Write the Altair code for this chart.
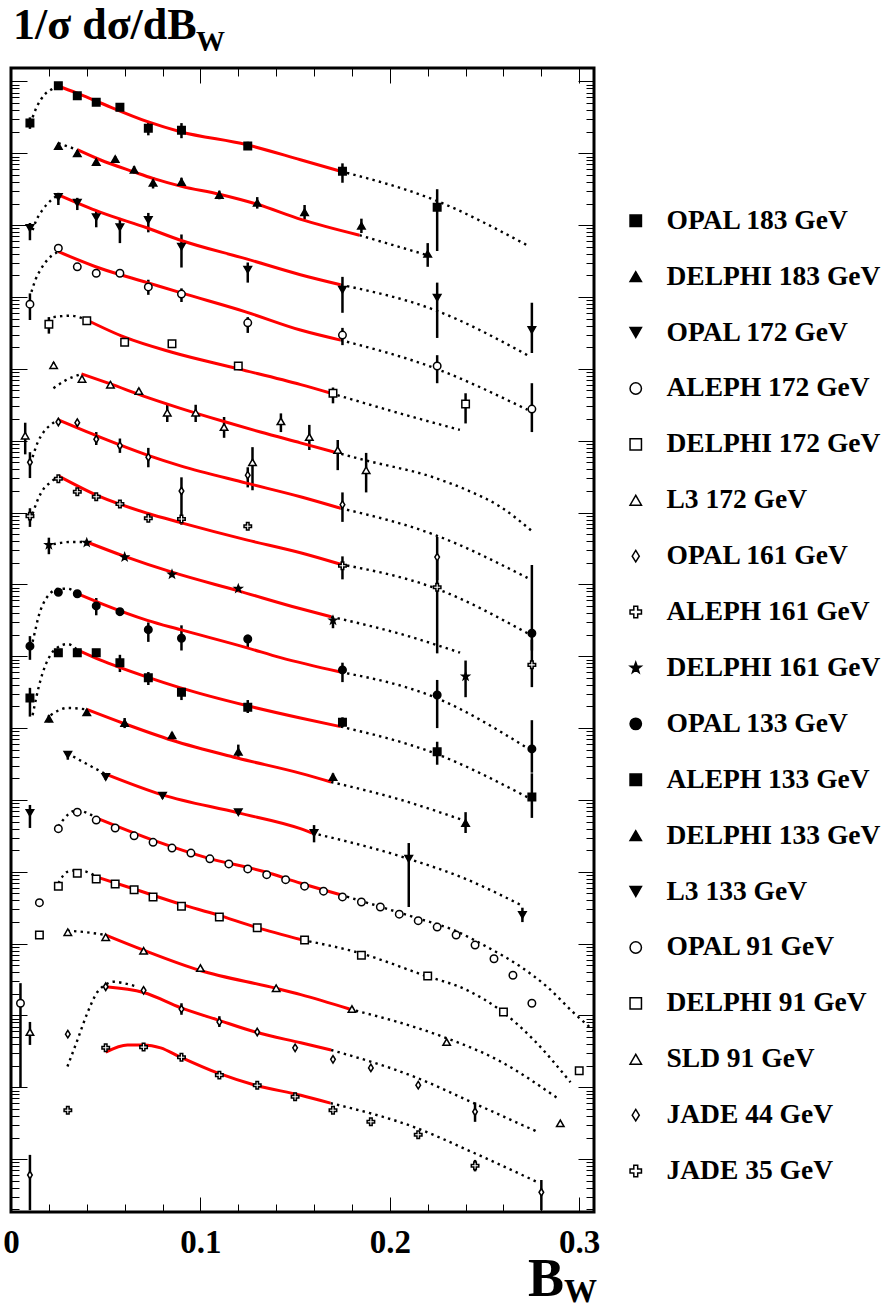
import altair as alt
import pandas as pd

NAMES = ["OPAL 183 GeV", "DELPHI 183 GeV", "OPAL 172 GeV", "ALEPH 172 GeV",
         "DELPHI 172 GeV", "L3 172 GeV", "OPAL 161 GeV", "ALEPH 161 GeV",
         "DELPHI 161 GeV", "OPAL 133 GeV", "ALEPH 133 GeV", "DELPHI 133 GeV",
         "L3 133 GeV", "OPAL 91 GeV", "DELPHI 91 GeV", "SLD 91 GeV",
         "JADE 44 GeV", "JADE 35 GeV"]

# y values are log10 of (1/sigma dsigma/dB_W x display offset); errors in decades
# ---- OPAL 183
o183_x = [0.01, 0.025, 0.035, 0.045, 0.0575, 0.0725, 0.09, 0.125, 0.175, 0.225]
o183_y = [0.42, 0.94, 0.80, 0.71, 0.64, 0.35, 0.32, 0.10, -0.25, -0.75]
o183_eu = [0.08, 0.03, 0.03, 0.03, 0.03, 0.10, 0.10, 0.06, 0.11, 0.25]
o183_ed = [0.08, 0.03, 0.03, 0.03, 0.03, 0.10, 0.11, 0.05, 0.16, 0.61]
o183_pre_x = [0.0114, 0.0135, 0.0156, 0.0182, 0.0209, 0.0245]
o183_pre_y = [0.50, 0.64, 0.74, 0.83, 0.88, 0.94]
o183_fit_x = [0.0245, 0.0346, 0.0473, 0.0721, 0.0895, 0.1243, 0.1528, 0.174]
o183_fit_y = [0.94, 0.84, 0.70, 0.44, 0.30, 0.12, -0.09, -0.25]
o183_post_x = [0.174, 0.2236, 0.2732]
o183_post_y = [-0.25, -0.65, -1.29]
# ---- DELPHI 183
d183_x = [0.025, 0.035, 0.045, 0.055, 0.065, 0.075, 0.09, 0.11, 0.13, 0.155, 0.185, 0.22]
d183_y = [0.10, 0.00, -0.12, -0.08, -0.23, -0.41, -0.40, -0.58, -0.69, -0.82, -1.01, -1.40]
d183_eu = [0.04, 0.04, 0.04, 0.04, 0.05, 0.08, 0.06, 0.06, 0.08, 0.10, 0.10, 0.15]
d183_ed = [0.04, 0.04, 0.04, 0.04, 0.05, 0.08, 0.06, 0.06, 0.08, 0.10, 0.10, 0.18]
d183_pre_x = [0.025, 0.035]
d183_pre_y = [0.14, 0.05]
d183_fit_x = [0.035, 0.047, 0.065, 0.075, 0.09, 0.11, 0.13, 0.153, 0.184]
d183_fit_y = [0.05, -0.09, -0.26, -0.35, -0.46, -0.57, -0.71, -0.92, -1.14]
d183_post_x = [0.184, 0.22]
d183_post_y = [-1.14, -1.42]
# ---- OPAL 172
o172_x = [0.01, 0.025, 0.035, 0.045, 0.0575, 0.0725, 0.09, 0.125, 0.175, 0.225, 0.275]
o172_y = [-1.04, -0.61, -0.69, -0.89, -1.03, -0.93, -1.30, -1.62, -1.90, -2.01, -2.46]
o172_eu = [0.07, 0.06, 0.07, 0.10, 0.13, 0.10, 0.17, 0.10, 0.18, 0.21, 0.38]
o172_ed = [0.17, 0.11, 0.10, 0.14, 0.22, 0.17, 0.29, 0.18, 0.32, 0.56, 0.32]
o172_pre_x = [0.0114, 0.0129, 0.0166, 0.0209, 0.025]
o172_pre_y = [-1.07, -0.96, -0.79, -0.66, -0.58]
o172_fit_x = [0.025, 0.047, 0.072, 0.0895, 0.1243, 0.1528, 0.174]
o172_fit_y = [-0.58, -0.82, -1.04, -1.21, -1.47, -1.69, -1.83]
o172_post_x = [0.174, 0.2236, 0.2727]
o172_post_y = [-1.83, -2.18, -2.81]
# ---- ALEPH 172
a172_x = [0.01, 0.025, 0.035, 0.045, 0.0575, 0.0725, 0.09, 0.125, 0.175, 0.225, 0.275]
a172_y = [-2.10, -1.32, -1.58, -1.67, -1.67, -1.86, -1.96, -2.36, -2.53, -2.96, -3.56]
a172_eu = [0.15, 0.04, 0.04, 0.04, 0.04, 0.10, 0.08, 0.08, 0.10, 0.15, 0.36]
a172_ed = [0.22, 0.04, 0.04, 0.04, 0.04, 0.11, 0.11, 0.14, 0.14, 0.24, 0.32]
a172_pre_x = [0.0108, 0.0129, 0.0156, 0.0193, 0.0235, 0.025]
a172_pre_y = [-1.93, -1.76, -1.62, -1.48, -1.39, -1.37]
a172_fit_x = [0.025, 0.047, 0.072, 0.0895, 0.1243, 0.1528, 0.174]
a172_fit_y = [-1.37, -1.60, -1.80, -1.94, -2.21, -2.46, -2.60]
a172_post_x = [0.174, 0.2236, 0.2727]
a172_post_y = [-2.60, -2.99, -3.57]
# ---- DELPHI 172
d172_x = [0.02, 0.04, 0.06, 0.085, 0.12, 0.17, 0.24]
d172_y = [-2.38, -2.33, -2.63, -2.65, -2.96, -3.34, -3.49]
d172_eu = [0.10, 0.04, 0.04, 0.04, 0.04, 0.08, 0.15]
d172_ed = [0.13, 0.04, 0.04, 0.04, 0.04, 0.14, 0.27]
d172_pre_x = [0.0224, 0.0314, 0.04]
d172_pre_y = [-2.28, -2.26, -2.32]
d172_fit_x = [0.04, 0.06, 0.085, 0.12, 0.153, 0.169]
d172_fit_y = [-2.32, -2.56, -2.77, -3.00, -3.22, -3.34]
d172_post_x = [0.169, 0.204, 0.237]
d172_post_y = [-3.34, -3.61, -3.85]
# ---- L3 172
l172_x = [0.0075, 0.0225, 0.0375, 0.0525, 0.0675, 0.0825, 0.0975, 0.1125, 0.1275, 0.1425, 0.1575, 0.1725, 0.1875]
l172_y = [-3.93, -2.95, -3.14, -3.22, -3.31, -3.61, -3.61, -3.81, -4.30, -3.73, -3.95, -4.13, -4.41]
l172_eu = [0.18, 0.04, 0.04, 0.04, 0.04, 0.11, 0.11, 0.14, 0.21, 0.11, 0.17, 0.14, 0.24]
l172_ed = [0.26, 0.04, 0.04, 0.04, 0.04, 0.13, 0.13, 0.15, 0.39, 0.15, 0.18, 0.28, 0.31]
l172_pre_x = [0.0224, 0.0288, 0.0372]
l172_pre_y = [-3.27, -3.16, -3.07]
l172_fit_x = [0.0372, 0.0525, 0.07, 0.0895, 0.112, 0.1317, 0.1528, 0.171]
l172_fit_y = [-3.07, -3.21, -3.38, -3.55, -3.73, -3.88, -4.03, -4.16]
l172_post_x = [0.171, 0.1867, 0.223, 0.241, 0.2584, 0.276]
l172_post_y = [-4.16, -4.27, -4.51, -4.69, -4.92, -5.28]
# ---- OPAL 161
o161_x = [0.01, 0.025, 0.035, 0.045, 0.0575, 0.0725, 0.09, 0.125, 0.175, 0.225]
o161_y = [-4.30, -3.74, -3.75, -3.98, -4.07, -4.23, -4.70, -4.48, -4.89, -5.62]
o161_eu = [0.14, 0.04, 0.04, 0.10, 0.10, 0.13, 0.19, 0.11, 0.17, 0.28]
o161_ed = [0.22, 0.04, 0.04, 0.08, 0.10, 0.14, 0.47, 0.17, 0.24, 0.32]
o161_pre_x = [0.0114, 0.014, 0.0172, 0.0209, 0.025]
o161_pre_y = [-4.23, -4.03, -3.88, -3.78, -3.71]
o161_fit_x = [0.025, 0.047, 0.072, 0.0895, 0.1243, 0.1528, 0.174]
o161_fit_y = [-3.71, -3.95, -4.20, -4.35, -4.59, -4.78, -4.94]
o161_post_x = [0.174, 0.2236, 0.2727]
o161_post_y = [-4.94, -5.31, -5.91]
# ---- ALEPH 161
a161_x = [0.01, 0.025, 0.035, 0.045, 0.0575, 0.0725, 0.09, 0.125, 0.175, 0.225, 0.275]
a161_y = [-5.05, -4.53, -4.71, -4.78, -4.88, -5.08, -5.09, -5.19, -5.74, -6.04, -7.12]
a161_eu = [0.11, 0.04, 0.04, 0.04, 0.05, 0.05, 0.05, 0.05, 0.13, 0.38, 0.35]
a161_ed = [0.15, 0.04, 0.04, 0.04, 0.05, 0.05, 0.05, 0.05, 0.19, 0.92, 0.31]
a161_pre_x = [0.0114, 0.014, 0.0172, 0.0209, 0.025]
a161_pre_y = [-5.02, -4.83, -4.67, -4.58, -4.49]
a161_fit_x = [0.025, 0.047, 0.072, 0.0895, 0.1243, 0.1528, 0.174]
a161_fit_y = [-4.49, -4.78, -5.01, -5.14, -5.38, -5.56, -5.72]
a161_post_x = [0.174, 0.2236, 0.2727]
a161_post_y = [-5.72, -6.05, -6.68]
# ---- DELPHI 161
d161_x = [0.02, 0.04, 0.06, 0.085, 0.12, 0.17, 0.24]
d161_y = [-5.45, -5.42, -5.62, -5.86, -6.06, -6.50, -7.28]
d161_eu = [0.10, 0.04, 0.04, 0.04, 0.04, 0.04, 0.22]
d161_ed = [0.13, 0.04, 0.04, 0.04, 0.04, 0.11, 0.29]
d161_pre_x = [0.0224, 0.0314, 0.04]
d161_pre_y = [-5.44, -5.41, -5.41]
d161_fit_x = [0.04, 0.06, 0.085, 0.12, 0.153, 0.169]
d161_fit_y = [-5.41, -5.61, -5.83, -6.09, -6.34, -6.45]
d161_post_x = [0.169, 0.211, 0.237]
d161_post_y = [-6.45, -6.73, -6.95]
# ---- OPAL 133
o133_x = [0.01, 0.025, 0.035, 0.045, 0.0575, 0.0725, 0.09, 0.125, 0.175, 0.225, 0.275, 0.275]
o133_y = [-6.86, -6.11, -6.13, -6.30, -6.38, -6.63, -6.75, -6.76, -7.19, -7.54, -8.29, -6.68]
o133_eu = [0.14, 0.04, 0.04, 0.11, 0.05, 0.10, 0.18, 0.06, 0.10, 0.21, 0.40, 0.95]
o133_ed = [0.19, 0.04, 0.04, 0.13, 0.05, 0.17, 0.17, 0.13, 0.17, 0.46, 0.33, 0.24]
o133_pre_x = [0.0114, 0.0129, 0.0145, 0.0172, 0.0209, 0.025, 0.0298, 0.035]
o133_pre_y = [-6.80, -6.63, -6.45, -6.26, -6.12, -6.06, -6.06, -6.13]
o133_fit_x = [0.035, 0.047, 0.072, 0.0895, 0.1243, 0.1423, 0.174]
o133_fit_y = [-6.13, -6.26, -6.50, -6.63, -6.88, -7.02, -7.22]
o133_post_x = [0.174, 0.2236, 0.2727]
o133_post_y = [-7.22, -7.57, -8.28]
# ---- ALEPH 133
a133_x = [0.01, 0.025, 0.035, 0.045, 0.0575, 0.0725, 0.09, 0.125, 0.175, 0.225, 0.275]
a133_y = [-7.58, -6.95, -6.95, -6.95, -7.09, -7.30, -7.50, -7.71, -7.92, -8.33, -8.96]
a133_eu = [0.14, 0.04, 0.04, 0.04, 0.11, 0.08, 0.07, 0.10, 0.07, 0.14, 0.33]
a133_ed = [0.26, 0.04, 0.04, 0.04, 0.13, 0.10, 0.11, 0.08, 0.07, 0.18, 0.29]
a133_pre_x = [0.0114, 0.0156, 0.0209, 0.025, 0.0298, 0.035]
a133_pre_y = [-7.82, -7.33, -6.98, -6.87, -6.83, -6.91]
a133_fit_x = [0.035, 0.047, 0.072, 0.0895, 0.1249, 0.1528, 0.174]
a133_fit_y = [-6.91, -7.05, -7.29, -7.44, -7.69, -7.86, -7.98]
a133_post_x = [0.174, 0.2236, 0.2732]
a133_post_y = [-7.98, -8.35, -8.97]
# ---- DELPHI 133
d133_x = [0.02, 0.04, 0.06, 0.085, 0.12, 0.17, 0.24]
d133_y = [-7.87, -7.78, -7.93, -8.10, -8.33, -8.68, -9.32]
d133_eu = [0.05, 0.04, 0.07, 0.04, 0.10, 0.05, 0.15]
d133_ed = [0.05, 0.04, 0.07, 0.04, 0.07, 0.05, 0.14]
d133_pre_x = [0.0209, 0.0298, 0.04]
d133_pre_y = [-7.82, -7.72, -7.74]
d133_fit_x = [0.04, 0.06, 0.085, 0.12, 0.153, 0.169]
d133_fit_y = [-7.74, -7.94, -8.17, -8.42, -8.63, -8.75]
d133_post_x = [0.169, 0.206, 0.2385]
d133_post_y = [-8.75, -9.00, -9.28]
# ---- L3 133
l133_x = [0.01, 0.03, 0.05, 0.08, 0.12, 0.16, 0.21, 0.27]
l133_y = [-9.18, -8.37, -8.68, -8.94, -9.17, -9.46, -9.82, -10.60]
l133_eu = [0.11, 0.04, 0.04, 0.04, 0.04, 0.11, 0.22, 0.10]
l133_ed = [0.21, 0.07, 0.04, 0.04, 0.04, 0.13, 0.67, 0.10]
l133_pre_x = [0.0298, 0.0393, 0.05]
l133_pre_y = [-8.35, -8.49, -8.64]
l133_fit_x = [0.05, 0.08, 0.12, 0.1528, 0.159]
l133_fit_y = [-8.64, -8.93, -9.18, -9.40, -9.46]
l133_post_x = [0.159, 0.2088, 0.241, 0.269]
l133_post_y = [-9.46, -9.81, -10.11, -10.46]
# ---- OPAL 91
o91_x = [0.005, 0.015, 0.025, 0.035, 0.045, 0.055, 0.065, 0.075, 0.085, 0.095,
         0.105, 0.115, 0.125, 0.135, 0.145, 0.155, 0.165, 0.175, 0.185, 0.195,
         0.205, 0.215, 0.225, 0.235, 0.245, 0.255, 0.265, 0.275]
o91_y = [-11.83, -10.43, -9.40, -9.17, -9.28, -9.39, -9.50, -9.59, -9.67, -9.74,
         -9.82, -9.89, -9.96, -10.04, -10.11, -10.20, -10.27, -10.35, -10.42, -10.49,
         -10.59, -10.68, -10.77, -10.88, -11.02, -11.21, -11.44, -11.83]
o91_eu = [0.28, 0.05, 0.03, 0.03, 0.03, 0.03, 0.03, 0.03, 0.03, 0.03,
          0.03, 0.03, 0.03, 0.03, 0.03, 0.03, 0.03, 0.03, 0.03, 0.03,
          0.03, 0.03, 0.03, 0.03, 0.03, 0.03, 0.03, 0.03]
o91_ed = [1.17, 0.05, 0.03, 0.03, 0.03, 0.03, 0.03, 0.03, 0.03, 0.03,
          0.03, 0.03, 0.03, 0.03, 0.03, 0.03, 0.03, 0.03, 0.03, 0.03,
          0.03, 0.03, 0.03, 0.03, 0.03, 0.03, 0.03, 0.03]
o91_pre_x = [0.025, 0.0298, 0.035, 0.04, 0.045]
o91_pre_y = [-9.37, -9.21, -9.14, -9.18, -9.25]
o91_fit_x = [0.045, 0.075, 0.104, 0.134, 0.153, 0.174]
o91_fit_y = [-9.25, -9.56, -9.81, -10.00, -10.16, -10.32]
o91_post_x = [0.174, 0.2125, 0.2336, 0.2516, 0.269, 0.283, 0.297, 0.308]
o91_post_y = [-10.32, -10.63, -10.81, -11.05, -11.32, -11.60, -11.96, -12.22]
# ---- DELPHI 91
d91_x = [0.015, 0.025, 0.035, 0.045, 0.055, 0.065, 0.075, 0.09, 0.11, 0.13, 0.155, 0.185, 0.22, 0.26, 0.30]
d91_y = [-10.88, -10.20, -10.02, -10.10, -10.17, -10.25, -10.35, -10.48, -10.63, -10.78, -10.95, -11.16, -11.45, -11.95, -12.77]
d91_eu = [0.03, 0.03, 0.03, 0.03, 0.03, 0.03, 0.03, 0.03, 0.03, 0.03, 0.03, 0.03, 0.03, 0.03, 0.03]
d91_ed = [0.03, 0.03, 0.03, 0.03, 0.03, 0.03, 0.03, 0.03, 0.03, 0.03, 0.03, 0.03, 0.03, 0.03, 0.03]
d91_pre_x = [0.025, 0.0298, 0.035, 0.04, 0.045]
d91_pre_y = [-10.16, -10.00, -9.98, -10.00, -10.07]
d91_fit_x = [0.045, 0.065, 0.0895, 0.109, 0.129, 0.154]
d91_fit_y = [-10.07, -10.24, -10.45, -10.60, -10.77, -10.95]
d91_post_x = [0.154, 0.184, 0.218, 0.241, 0.258, 0.276, 0.2954]
d91_post_y = [-10.95, -11.13, -11.44, -11.65, -11.92, -12.34, -12.93]
# ---- SLD 91
s91_x = [0.01, 0.03, 0.05, 0.07, 0.10, 0.14, 0.18, 0.23, 0.29]
s91_y = [-12.23, -10.84, -10.91, -11.10, -11.34, -11.62, -11.91, -12.37, -13.50]
s91_eu = [0.14, 0.03, 0.03, 0.03, 0.03, 0.03, 0.03, 0.03, 0.03]
s91_ed = [0.18, 0.03, 0.03, 0.03, 0.03, 0.03, 0.03, 0.03, 0.03]
s91_pre_x = [0.0298, 0.0393, 0.05]
s91_pre_y = [-10.82, -10.84, -10.88]
s91_fit_x = [0.05, 0.07, 0.0995, 0.1397, 0.153, 0.1787]
s91_fit_y = [-10.88, -11.09, -11.37, -11.62, -11.71, -11.91]
s91_post_x = [0.1787, 0.2284, 0.257, 0.2885]
s91_post_y = [-11.91, -12.30, -12.62, -13.15]
# ---- JADE 44
j44_x = [0.01, 0.03, 0.05, 0.07, 0.09, 0.11, 0.13, 0.15, 0.17, 0.19, 0.215, 0.245, 0.28]
j44_y = [-14.22, -12.26, -11.60, -11.65, -11.91, -12.09, -12.23, -12.45, -12.61, -12.73, -12.97, -13.34, -14.46]
j44_eu = [0.28, 0.04, 0.04, 0.04, 0.08, 0.08, 0.04, 0.04, 0.04, 0.04, 0.04, 0.13, 0.17]
j44_ed = [0.49, 0.04, 0.04, 0.04, 0.08, 0.07, 0.04, 0.04, 0.04, 0.04, 0.04, 0.14, 0.25]
j44_pre_x = [0.0298, 0.0351, 0.0404, 0.0457, 0.05, 0.0541, 0.0594, 0.0668]
j44_pre_y = [-12.71, -12.34, -11.96, -11.67, -11.57, -11.53, -11.55, -11.60]
j44_fit_x = [0.05, 0.07, 0.0895, 0.109, 0.129, 0.153, 0.169]
j44_fit_y = [-11.60, -11.68, -11.89, -12.06, -12.23, -12.38, -12.48]
j44_post_x = [0.169, 0.2136, 0.2443, 0.278]
j44_post_y = [-12.48, -12.86, -13.22, -13.62]
# ---- JADE 35
j35_x = [0.03, 0.05, 0.07, 0.09, 0.11, 0.13, 0.15, 0.17, 0.19, 0.215, 0.245]
j35_y = [-13.32, -12.45, -12.44, -12.58, -12.83, -12.97, -13.13, -13.32, -13.48, -13.66, -14.09]
j35_eu = [0.04, 0.04, 0.04, 0.04, 0.04, 0.04, 0.04, 0.04, 0.04, 0.04, 0.08]
j35_ed = [0.04, 0.04, 0.04, 0.04, 0.04, 0.04, 0.04, 0.04, 0.04, 0.04, 0.08]
j35_pre_x = []
j35_pre_y = []
j35_fit_x = [0.05, 0.0615, 0.07, 0.079, 0.0895, 0.109, 0.129, 0.153, 0.1687]
j35_fit_y = [-12.51, -12.41, -12.41, -12.45, -12.58, -12.80, -12.97, -13.11, -13.22]
j35_post_x = [0.1687, 0.2125, 0.2442, 0.278]
j35_post_y = [-13.22, -13.55, -13.91, -14.32]

DIAMOND = "M0,-1L0.62,0L0,1L-0.62,0Z"
CROSS = "M-0.34,-1H0.34V-0.34H1V0.34H0.34V1H-0.34V0.34H-1V-0.34H-0.34Z"
STAR = ("M0,-1L0.235,-0.324L0.951,-0.309L0.38,0.124L0.588,0.809L0,0.4"
        "L-0.588,0.809L-0.38,0.124L-0.951,-0.309L-0.235,-0.324Z")
SHAPES = ["square", "triangle-up", "triangle-down", "circle", "square", "triangle-up",
          DIAMOND, CROSS, STAR, "circle", "square", "triangle-up", "triangle-down",
          "circle", "square", "triangle-up", DIAMOND, CROSS]
FILLS = ["black", "black", "black", "white", "white", "white", "white", "white", "black",
         "black", "black", "black", "black", "white", "white", "white", "white", "white"]
STROKES = ["black"] * 18
WIDTHS = [1.5, 1.5, 1.5, 2.2, 2.2, 2.2, 2.0, 3.2, 1.5,
          1.5, 1.5, 1.5, 1.5, 2.2, 2.2, 2.2, 2.0, 3.2]

G = globals()
KEYS = ["o183", "d183", "o172", "a172", "d172", "l172", "o161", "a161", "d161",
        "o133", "a133", "d133", "l133", "o91", "d91", "s91", "j44", "j35"]

pts_rows, dot_rows, fit_rows = [], [], []
for name, k in zip(NAMES, KEYS):
    for xi, yi, u, d in zip(G[k + "_x"], G[k + "_y"], G[k + "_eu"], G[k + "_ed"]):
        pts_rows.append({"set": name, "x": xi, "y": 10 ** yi,
                         "lo": 10 ** (yi - d), "hi": 10 ** (yi + u)})
    for part in ["pre", "post"]:
        for i, (xi, yi) in enumerate(zip(G[k + "_" + part + "_x"], G[k + "_" + part + "_y"])):
            dot_rows.append({"set": name, "seg": name + part, "i": i, "x": xi, "y": 10 ** yi})
    for i, (xi, yi) in enumerate(zip(G[k + "_fit_x"], G[k + "_fit_y"])):
        fit_rows.append({"set": name, "i": i, "x": xi, "y": 10 ** yi})

pts = pd.DataFrame(pts_rows)
dots = pd.DataFrame(dot_rows)
fits = pd.DataFrame(fit_rows)

W, H = 583, 1144
XD = [0, 0.3078]
YLO, YHI = -14.735, 1.187
xs = alt.Scale(domain=XD, nice=False, zero=False)
ys = alt.Scale(type="log", domain=[10 ** YLO, 10 ** YHI], nice=False)

xticks = [round(i * 0.02, 2) for i in range(0, 16)]
yticks = [k * 10.0 ** n for n in range(-15, 2) for k in range(1, 10)
          if 10 ** YLO <= k * 10.0 ** n <= 10 ** YHI]
MAJ_X = "abs(datum.value*10 - round(datum.value*10)) < 0.001"
MAJ_Y = "abs(log(datum.value)/LN10 - round(log(datum.value)/LN10)) < 0.001"


def tick_axis(orient, offset, values, test, big, small):
    return alt.Axis(orient=orient, offset=offset, values=values, labels=False,
                    domain=False, grid=False, title=None, tickColor="black",
                    tickWidth=1,
                    tickSize={"condition": {"test": test, "value": big}, "value": small})


x_labels = alt.Axis(orient="bottom", values=[0, 0.1, 0.2, 0.3], ticks=False, domain=False,
                    grid=False, title=None, format=".1~f", labelFont="Liberation Serif",
                    labelFontSize=33, labelFontWeight="bold", labelColor="black",
                    labelPadding=14, labelFlush=False, labelOverlap=False)

err = alt.Chart(pts).mark_rule(color="black", strokeWidth=2.5, clip=True).encode(
    x=alt.X("x:Q", scale=xs, axis=x_labels),
    y=alt.Y("lo:Q", scale=ys, axis=tick_axis("right", -W, yticks, MAJ_Y, 16, 8)),
    y2="hi:Q",
)

dotted = alt.Chart(dots).mark_line(color="black", strokeWidth=2.4, strokeDash=[2.4, 4.2],
                                   interpolate="monotone", clip=True).encode(
    x=alt.X("x:Q", scale=xs, axis=tick_axis("top", -H, xticks, MAJ_X, 15, 8)),
    y=alt.Y("y:Q", scale=ys, axis=tick_axis("left", -W, yticks, MAJ_Y, 16, 8)),
    detail="seg:N",
    order="i:Q",
)

red = alt.Chart(fits).mark_line(color="#ff0000", strokeWidth=3, interpolate="monotone",
                                clip=True).encode(
    x=alt.X("x:Q", scale=xs, axis=tick_axis("bottom", -H, xticks, MAJ_X, 15, 8)),
    y=alt.Y("y:Q", scale=ys, axis=None),
    detail="set:N",
    order="i:Q",
)

leg = alt.Legend(orient="none", legendX=611, legendY=139, title=None,
                 labelFont="Liberation Serif", labelFontSize=27.5, labelFontWeight="bold",
                 labelColor="black", labelLimit=500, symbolSize=130, symbolStrokeWidth=1,
                 rowPadding=26.9, labelOffset=17, padding=0)

points = alt.Chart(pts).mark_point(filled=True, size=56, opacity=1, clip=True).encode(
    x=alt.X("x:Q", scale=xs, axis=None),
    y=alt.Y("y:Q", scale=ys, axis=None),
    shape=alt.Shape("set:N", scale=alt.Scale(domain=NAMES, range=SHAPES), legend=leg),
    fill=alt.Fill("set:N", scale=alt.Scale(domain=NAMES, range=FILLS), legend=leg),
    stroke=alt.Stroke("set:N", scale=alt.Scale(domain=NAMES, range=STROKES), legend=leg),
    strokeWidth=alt.StrokeWidth("set:N", scale=alt.Scale(domain=NAMES, range=WIDTHS),
                                legend=None),
)


def label(text, x, y, size):
    return alt.Chart(pd.DataFrame({"t": [text]})).mark_text(
        font="Liberation Serif", fontSize=size, fontWeight="bold", align="left",
        baseline="alphabetic", color="black").encode(
        x=alt.value(x), y=alt.value(y), text="t:N")


t1 = label("1/σ dσ/dB", 2, -29, 44)
t2 = label("W", 185, -17, 29)
t3 = label("B", 517, 1228, 54)
t4 = label("W", 553, 1234, 33)

chart = alt.layer(err, dotted, red, points, t1, t2, t3, t4).resolve_axis(
    x="independent", y="independent"
).properties(
    width=W, height=H,
    autosize=alt.AutoSizeParams(type="none"),
    padding={"left": 11, "top": 68, "right": 290, "bottom": 98},
    background="white",
).configure_view(stroke="black", strokeWidth=3)

chart.save("out.html", embed_options={"renderer": "svg", "actions": False})
